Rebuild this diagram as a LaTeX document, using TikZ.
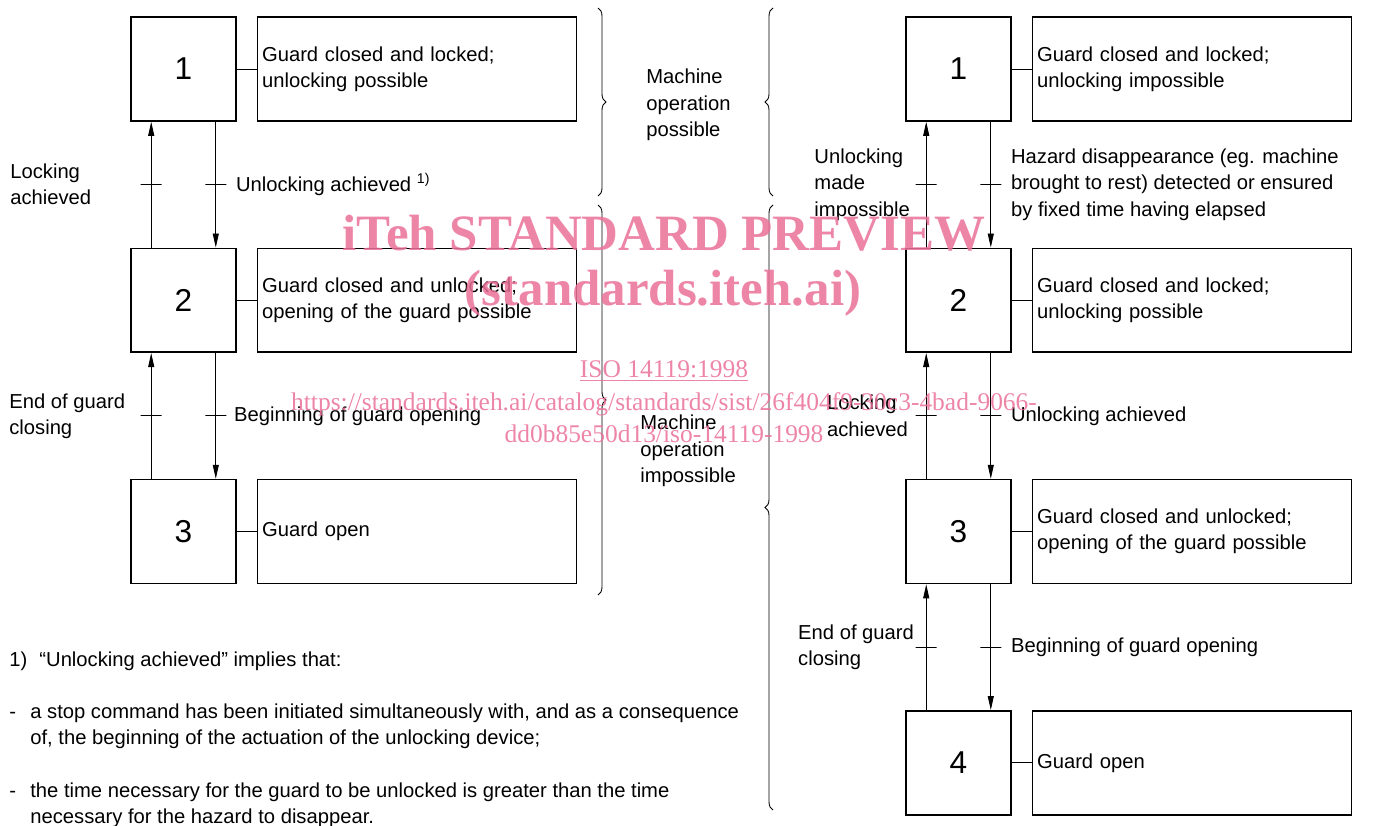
\documentclass[tikz,border=0pt]{standalone}
\usepackage{fontspec}
\setmainfont{Liberation Sans}
\newfontfamily\wmfont{Liberation Serif}
\usetikzlibrary{positioning,arrows.meta,decorations.pathreplacing}
\definecolor{wmpink}{RGB}{234,112,152}

\begin{document}
\begin{tikzpicture}[x=0.02cm,y=-0.02cm,
  statebox/.style={rectangle,draw=black,line width=0.9pt,minimum width=2.1cm,minimum height=2.08cm,inner sep=0pt,font=\fontsize{18}{20}\selectfont},
  descbox/.style={rectangle,draw=black,line width=0.9pt,minimum width=6.38cm,minimum height=2.08cm,text width=6.2cm,inner xsep=0.09cm,align=left,font=\fontsize{11.5}{15}\selectfont},
  lbl/.style={inner sep=0pt,align=left,font=\fontsize{11.5}{15}\selectfont},
  arr/.style={-{Triangle[length=2.8mm,width=1.2mm]},line width=0.5pt},
  tickmark/.style={draw,line width=0.5pt,minimum width=0.42cm,minimum height=0pt,inner sep=0pt},
  cbrace/.style={decorate,decoration={brace,amplitude=0.16cm},line width=0.5pt},
  wm/.style={text=wmpink,opacity=0.85,inner sep=0pt}
]
\useasboundingbox (0,0) rectangle (1375,825);
% left sequence
\node[statebox] (l1) at (183.5,69) {1};
\node[statebox,below=2.515cm of l1] (l2) {2};
\node[statebox,below=2.515cm of l2] (l3) {3};
\node[descbox,right=0.4cm of l1] (ld1) {Guard closed and locked;\\unlocking possible};
\node[descbox,right=0.4cm of l2] (ld2) {Guard closed and unlocked;\\opening of the guard possible};
\node[descbox,right=0.4cm of l3] (ld3) {Guard open};
\foreach \i in {1,2,3} \draw[line width=0.5pt] (l\i) -- (ld\i);
\draw[arr] ([xshift=0.42cm]l2.north west) -- ([xshift=0.42cm]l1.south west) node[tickmark,midway] (k1) {};
\draw[arr] ([xshift=-0.42cm]l1.south east) -- ([xshift=-0.42cm]l2.north east) node[tickmark,midway] (k2) {};
\draw[arr] ([xshift=0.42cm]l3.north west) -- ([xshift=0.42cm]l2.south west) node[tickmark,midway] (k3) {};
\draw[arr] ([xshift=-0.42cm]l2.south east) -- ([xshift=-0.42cm]l3.north east) node[tickmark,midway] (k4) {};
\node[lbl,anchor=west] (la1) at (10,184) {Locking\\achieved};
\node[lbl,right=0.18cm of k2] (la2) {Unlocking achieved \textsuperscript{1)}};
\node[lbl,anchor=west] (la3) at (9,416) {End of guard\\closing};
\node[lbl,right=0.14cm of k4] (la4) {Beginning of guard opening};

% right sequence
\node[statebox] (r1) at (958.5,69) {1};
\node[statebox,below=2.515cm of r1] (r2) {2};
\node[statebox,below=2.515cm of r2] (r3) {3};
\node[statebox,below=2.515cm of r3] (r4) {4};
\node[descbox,right=0.4cm of r1] (rd1) {Guard closed and locked;\\unlocking impossible};
\node[descbox,right=0.4cm of r2] (rd2) {Guard closed and locked;\\unlocking possible};
\node[descbox,right=0.4cm of r3] (rd3) {Guard closed and unlocked;\\opening of the guard possible};
\node[descbox,right=0.4cm of r4] (rd4) {Guard open};
\foreach \i in {1,2,3,4} \draw[line width=0.5pt] (r\i) -- (rd\i);
\draw[arr] ([xshift=0.42cm]r2.north west) -- ([xshift=0.42cm]r1.south west) node[tickmark,midway] (k5) {};
\draw[arr] ([xshift=-0.42cm]r1.south east) -- ([xshift=-0.42cm]r2.north east) node[tickmark,midway] (k6) {};
\draw[arr] ([xshift=0.42cm]r3.north west) -- ([xshift=0.42cm]r2.south west) node[tickmark,midway] (k7) {};
\draw[arr] ([xshift=-0.42cm]r2.south east) -- ([xshift=-0.42cm]r3.north east) node[tickmark,midway] (k8) {};
\draw[arr] ([xshift=0.42cm]r4.north west) -- ([xshift=0.42cm]r3.south west) node[tickmark,midway] (k9) {};
\draw[arr] ([xshift=-0.42cm]r3.south east) -- ([xshift=-0.42cm]r4.north east) node[tickmark,midway] (k10) {};
\node[lbl,left=0.1cm of k5] (ra1) {Unlocking\\made\\impossible};
\node[lbl,right=0.18cm of k6] (ra2) {Hazard disappearance (eg. machine\\brought to rest) detected or ensured\\by fixed time having elapsed};
\node[lbl,left=0.14cm of k7] (ra3) {Locking\\achieved};
\node[lbl,right=0.18cm of k8] (ra4) {Unlocking achieved};
\node[lbl,left=0.02cm of k9] (ra5) {End of guard\\closing};
\node[lbl,right=0.18cm of k10] (ra6) {Beginning of guard opening};

% braces
\draw[cbrace] (598,8) -- (598,196);
\draw[cbrace] (598,205) -- (598,595);
\draw[cbrace] (773,196) -- (773,8);
\draw[cbrace] (773,810) -- (773,205);
\node[lbl,anchor=west] (mp) at (646,105) {Machine\\operation\\possible};
\node[lbl,anchor=west] (mi) at (640,451) {Machine\\operation\\impossible};

% footnote
\node[lbl,anchor=west] (fn) at (9,661) {1)\hspace{0.6em}“Unlocking achieved” implies that:};
\node[lbl,anchor=west] (fa) at (9,726) {\begin{tabular}{@{}p{0.42cm}@{}l@{}}-&a stop command has been initiated simultaneously with, and as a consequence\\&of, the beginning of the actuation of the unlocking device;\end{tabular}};
\node[lbl,anchor=west] (fb) at (9,805) {\begin{tabular}{@{}p{0.42cm}@{}l@{}}-&the time necessary for the guard to be unlocked is greater than the time\\&necessary for the hazard to disappear.\end{tabular}};

% watermark
\node[wm,font=\wmfont\bfseries\fontsize{29}{32}\selectfont] (wm1) at (664,233) {iTeh STANDARD PREVIEW};
\node[wm,font=\wmfont\bfseries\fontsize{29}{32}\selectfont] (wm2) at (663,293) {(standards.iteh.ai)};
\node[wm,font=\wmfont\fontsize{14.5}{16}\selectfont] (wm3) at (664,371) {\underline{ISO 14119:1998}};
\node[wm,font=\wmfont\fontsize{14.5}{16}\selectfont] (wm4) at (664,404) {https://standards.iteh.ai/catalog/standards/sist/26f404f9-30c3-4bad-9066-};
\node[wm,font=\wmfont\fontsize{14.5}{16}\selectfont] (wm5) at (664,434) {dd0b85e50d13/iso-14119-1998};
\end{tikzpicture}
\end{document}
